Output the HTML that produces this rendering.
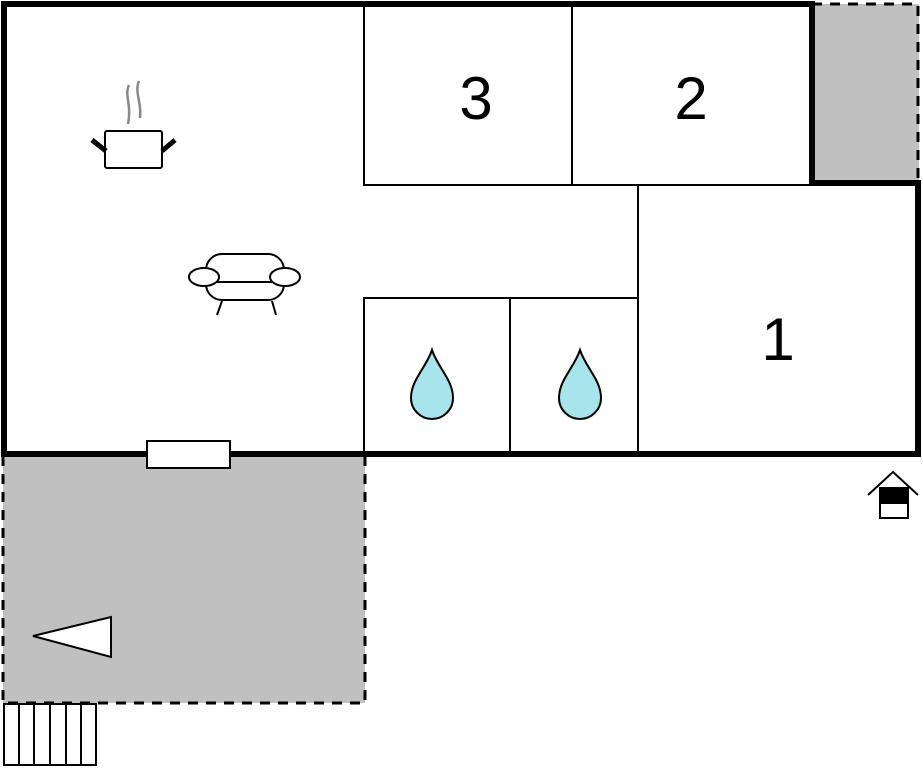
<!DOCTYPE html>
<html><head><style>body{margin:0;background:#fff}svg{display:block}</style></head><body>
<svg width="923" height="768" viewBox="0 0 923 768" xmlns="http://www.w3.org/2000/svg" font-family="Liberation Sans, sans-serif">
<rect x="3" y="456" width="362" height="247" fill="#c0c0c0"/>
<rect x="812" y="4" width="107" height="179" fill="#c0c0c0"/>
<g fill="none" stroke="#000" stroke-width="3" stroke-dasharray="10,8">
<path d="M3,456 V703 H365 V456"/>
<path d="M812,4 H918 V183"/>
</g>
<g fill="none" stroke="#000" stroke-width="2">
<path d="M364,4 V185 H812"/>
<path d="M572,4 V185"/>
<path d="M638,185 V454"/>
<path d="M364,454 V298 H638"/>
<path d="M510,298 V454"/>
</g>
<g fill="none" stroke="#000" stroke-width="6">
<path d="M4,454 V4 H812 V183 H918 V454 Z"/>
</g>
<rect x="147" y="441" width="83" height="27" fill="#fff" stroke="#000" stroke-width="2"/>
<g fill="#fff" stroke="#000" stroke-width="2">
<rect x="4" y="704" width="15" height="61"/><rect x="19" y="704" width="15" height="61"/><rect x="34" y="704" width="16" height="61"/><rect x="50" y="704" width="16" height="61"/><rect x="66" y="704" width="15" height="61"/><rect x="81" y="704" width="15" height="61"/>
</g>
<polygon points="33,636 111,617 111,657" fill="#fff" stroke="#000" stroke-width="2"/>
<text x="476" y="119" font-size="60" text-anchor="middle">3</text>
<text x="691" y="119" font-size="60" text-anchor="middle">2</text>
<text x="778" y="360" font-size="60" text-anchor="middle">1</text>
<g fill="#a8e4ec" stroke="#000" stroke-width="2">
<path d="M432,350 C426,368 411,380 411,398 C411,410 421,419 432,419 C443,419 453,410 453,398 C453,380 438,368 432,350Z"/>
<path d="M580,350 C574,368 559,380 559,398 C559,410 569,419 580,419 C591,419 601,410 601,398 C601,380 586,368 580,350Z"/>
</g>
<g fill="none" stroke="#888" stroke-width="2.5">
<path d="M129,85 C124,95 132,105 128,124"/><path d="M139,81 C134,92 142,102 140,118"/>
</g>
<rect x="105" y="131" width="57" height="37" rx="2" fill="#fff" stroke="#000" stroke-width="2"/>
<path d="M92,140 L106,151 M162,151 L175,140" stroke="#000" stroke-width="5"/>
<g fill="#fff" stroke="#000" stroke-width="2">
<rect x="206" y="254" width="78" height="46" rx="16"/>
<line x1="216" y1="282" x2="272" y2="282"/>
<ellipse cx="204" cy="277" rx="15" ry="9"/>
<ellipse cx="285" cy="277" rx="15" ry="9"/>
<path d="M222,301 L217,315 M272,301 L276,315" fill="none"/>
</g>
<g stroke="#000" stroke-width="2" fill="#fff">
<path d="M868,495 L893,472 L918,495" fill="none"/>
<rect x="880" y="488" width="28" height="30"/>
<rect x="880" y="488" width="28" height="15" fill="#000"/>
</g>
</svg>
</body></html>
